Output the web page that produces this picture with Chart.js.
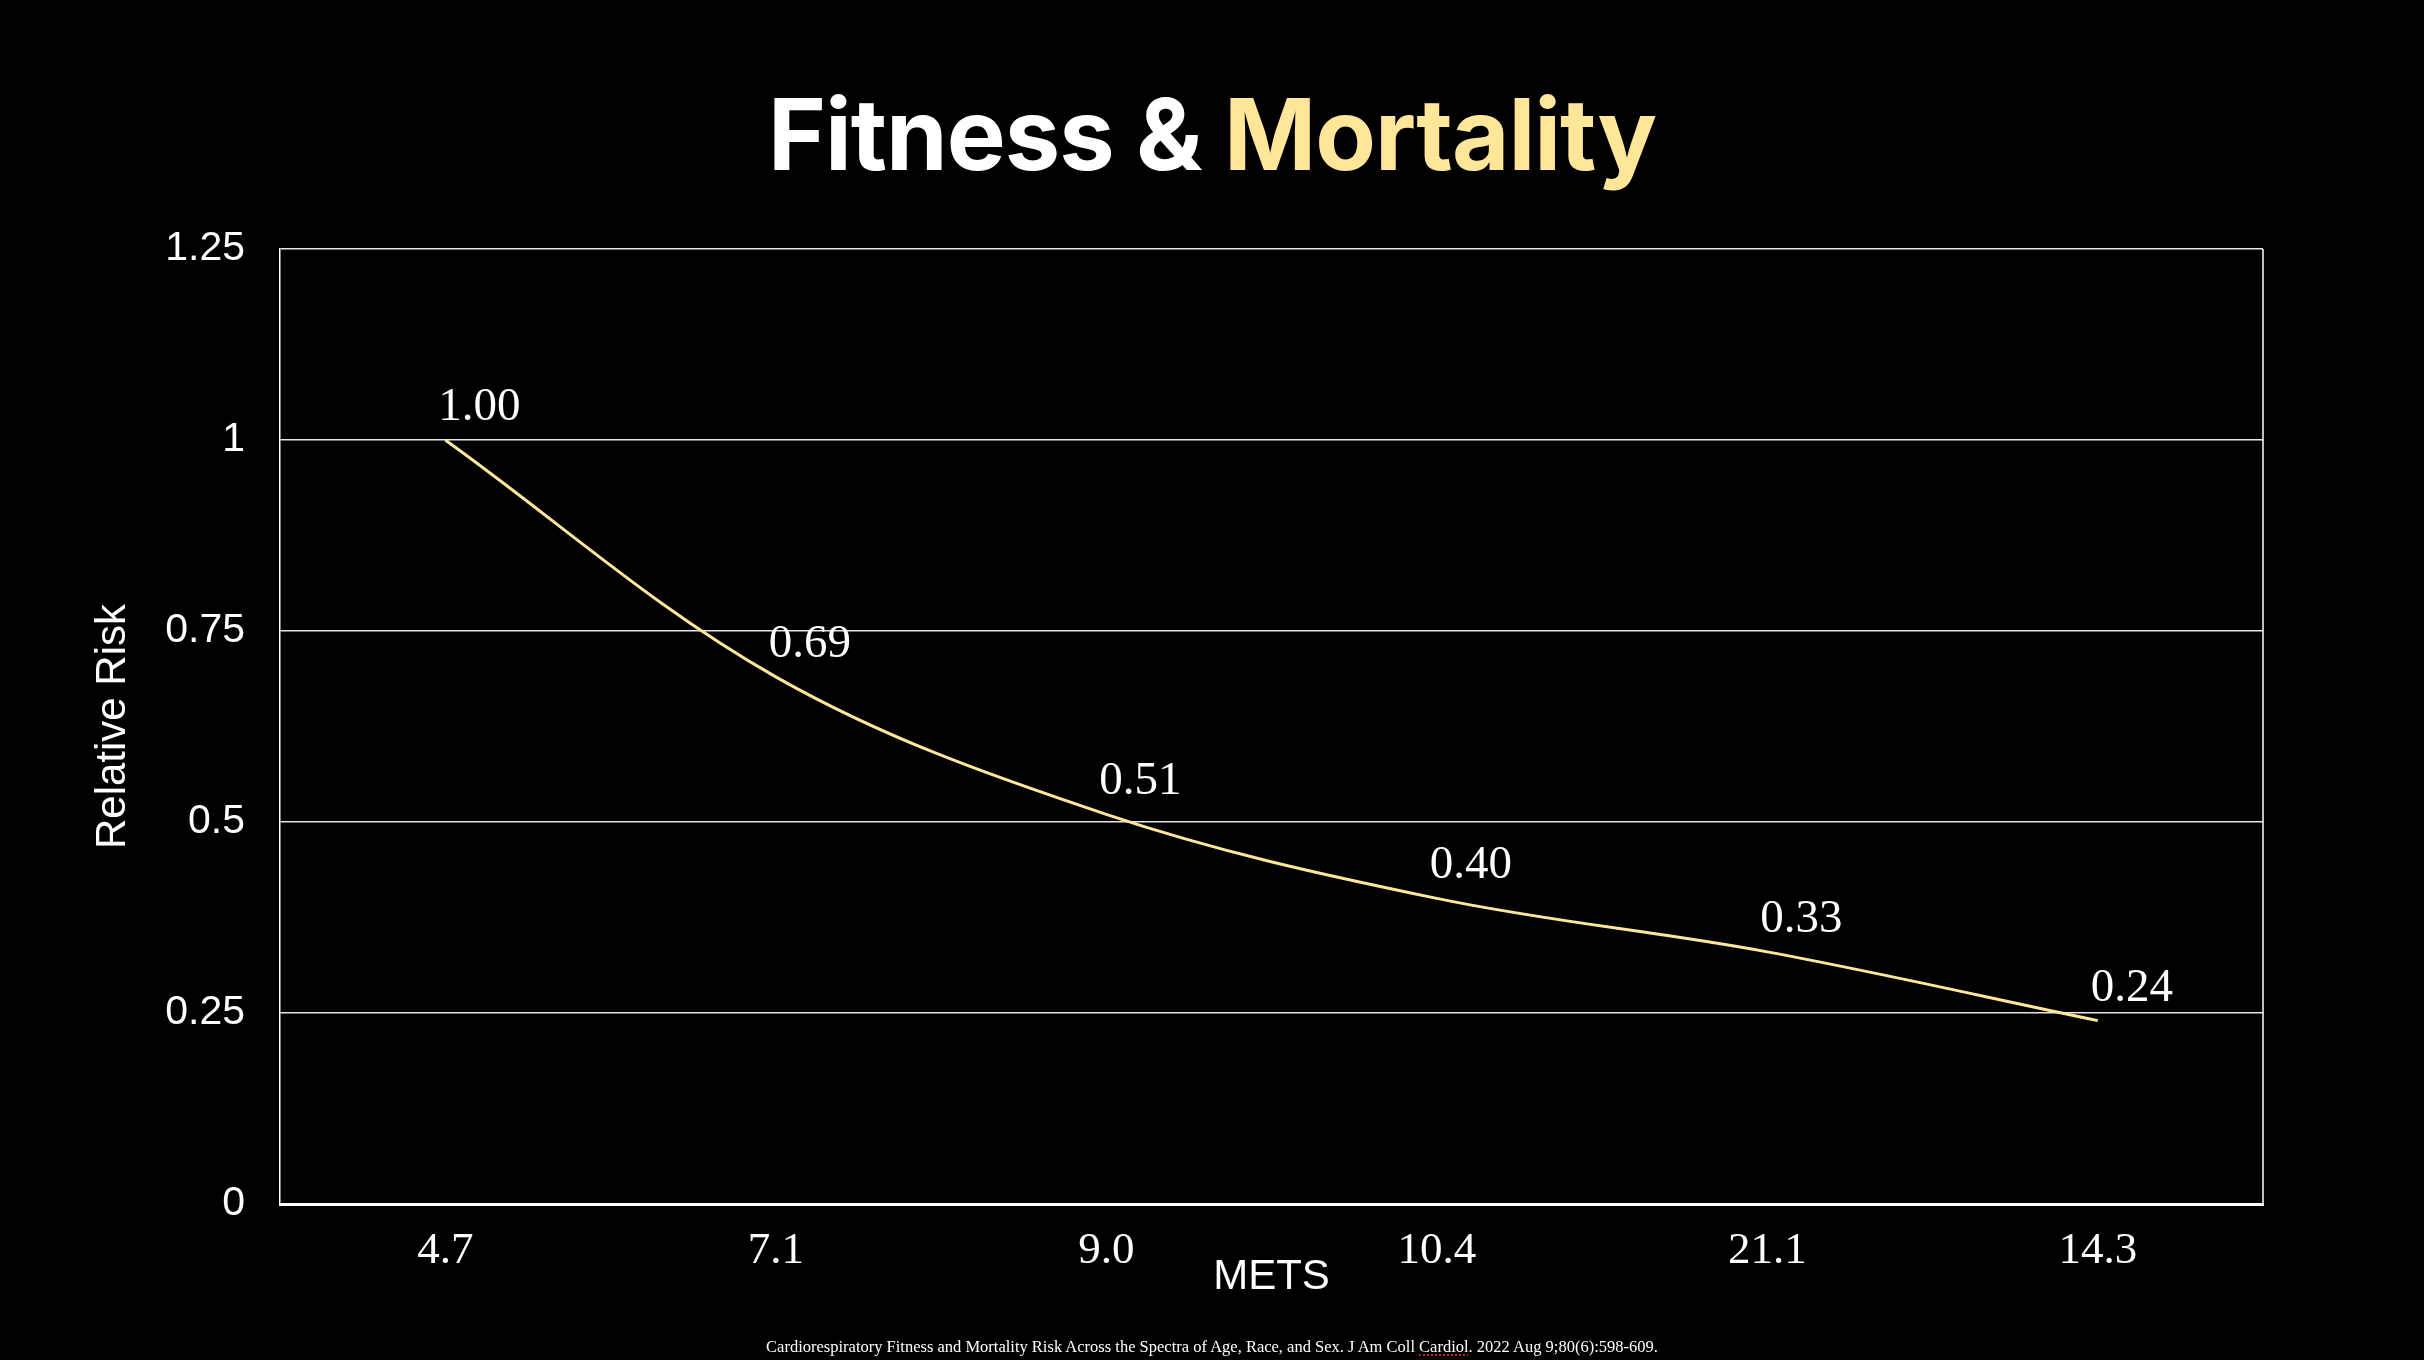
<!DOCTYPE html>
<html>
<head>
<meta charset="utf-8">
<title>Fitness &amp; Mortality</title>
<script src="https://cdn.jsdelivr.net/npm/chart.js@4.4.1/dist/chart.umd.min.js"></script>
<style>
    html, body { margin: 0; padding: 0; background: #000; }
    body { width: 2424px; height: 1360px; position: relative; overflow: hidden; }
    .chart-wrap { position: absolute; left: 0; top: 0; width: 2424px; height: 1360px; }
    .title {
        position: absolute; left: 0; right: 0; top: 85px;
        text-align: center; margin: 0;
        font-family: Inter, 'Noto Sans', sans-serif; font-weight: 700;
        font-size: 99px; line-height: 1; letter-spacing: -1px; color: #fff;
    }
    .title .accent { color: #FFE699; }
    .source {
        position: absolute; left: 0; right: 0; top: 1339px;
        text-align: center; margin: 0;
        font-family: 'Liberation Serif', 'DejaVu Serif', serif;
        font-size: 16.5px; line-height: 1; color: #fff;
    }
    .source .flag { text-decoration: underline dotted #e0302a; text-underline-offset: 3px; }
</style>
</head>
<body>
<h1 class="title">Fitness &amp; <span class="accent">Mortality</span></h1>
<div class="chart-wrap"><canvas id="riskChart"></canvas></div>
<p class="source">Cardiorespiratory Fitness and Mortality Risk Across the Spectra of Age, Race, and Sex. J Am Coll <span class="flag">Cardiol</span>. 2022 Aug 9;80(6):598-609.</p>

<script>
// --- Data ---
const metsLabels = ['4.7', '7.1', '9.0', '10.4', '21.1', '14.3'];
const relativeRisk = [1.00, 0.69, 0.51, 0.40, 0.33, 0.24];
const yTickValues = [0, 0.25, 0.5, 0.75, 1, 1.25];

const LINE_COLOR = '#FFE699';
const SERIF = "'Liberation Serif', 'DejaVu Serif', serif";
const SANS = "'Liberation Sans', Arial, sans-serif";

// draw the right edge of the plot box (top edge is the 1.25 gridline)
const plotFrame = {
    id: 'plotFrame',
    beforeDatasetsDraw(chart) {
        const { ctx, chartArea } = chart;
        ctx.save();
        ctx.strokeStyle = '#ffffff';
        ctx.lineWidth = 1.5;
        ctx.beginPath();
        ctx.moveTo(chartArea.right, chartArea.top);
        ctx.lineTo(chartArea.right, chartArea.bottom);
        ctx.stroke();
        ctx.restore();
    }
};

// value labels above and to the right of each point
const valueLabels = {
    id: 'valueLabels',
    afterDatasetsDraw(chart) {
        const { ctx } = chart;
        const meta = chart.getDatasetMeta(0);
        ctx.save();
        ctx.font = '47px ' + SERIF;
        ctx.fillStyle = '#ffffff';
        ctx.textAlign = 'center';
        ctx.textBaseline = 'alphabetic';
        meta.data.forEach((pt, i) => {
            ctx.fillText(relativeRisk[i].toFixed(2), pt.x + 34, pt.y - 20);
        });
        ctx.restore();
    }
};

const canvas = document.getElementById('riskChart');
new Chart(canvas.getContext('2d'), {
    type: 'line',
    data: {
        labels: metsLabels,
        datasets: [{
            label: 'Relative Risk',
            data: relativeRisk,
            borderColor: LINE_COLOR,
            borderWidth: 3,
            tension: 0.35,
            pointRadius: 0,
            fill: false
        }]
    },
    options: {
        responsive: true,
        maintainAspectRatio: false,
        animation: false,
        layout: { padding: { left: 0, top: 249, right: 161, bottom: 0 } },
        plugins: {
            legend: { display: false },
            tooltip: { enabled: false }
        },
        scales: {
            x: {
                offset: true,
                afterFit: (scale) => { scale.height = 156; },
                grid: { display: false, drawTicks: false, offset: true },
                border: { display: true, color: '#ffffff', width: 3 },
                ticks: {
                    color: '#ffffff',
                    padding: 20,
                    font: { family: SERIF, size: 45 }
                },
                title: {
                    display: true,
                    text: 'METS',
                    color: '#ffffff',
                    font: { family: SANS, size: 42, lineHeight: 1.2 },
                    padding: { top: 0, bottom: 57 }
                }
            },
            y: {
                min: 0,
                max: 1.25,
                afterFit: (scale) => { scale.width = 280; },
                afterBuildTicks: (scale) => {
                    scale.ticks = yTickValues.map(v => ({ value: v }));
                },
                grid: { color: '#e6e6e6', lineWidth: 1.5, drawTicks: false },
                border: { display: true, color: '#ffffff', width: 1.5 },
                ticks: {
                    color: '#ffffff',
                    padding: 35,
                    font: { family: SANS, size: 41 },
                    callback: (v) => String(Math.round(v * 100) / 100)
                },
                title: {
                    display: true,
                    text: 'Relative Risk',
                    color: '#ffffff',
                    font: { family: SANS, size: 42, lineHeight: 1.2 },
                    padding: { top: 88, bottom: 0 }
                }
            }
        }
    },
    plugins: [plotFrame, valueLabels]
});
</script>
</body>
</html>
